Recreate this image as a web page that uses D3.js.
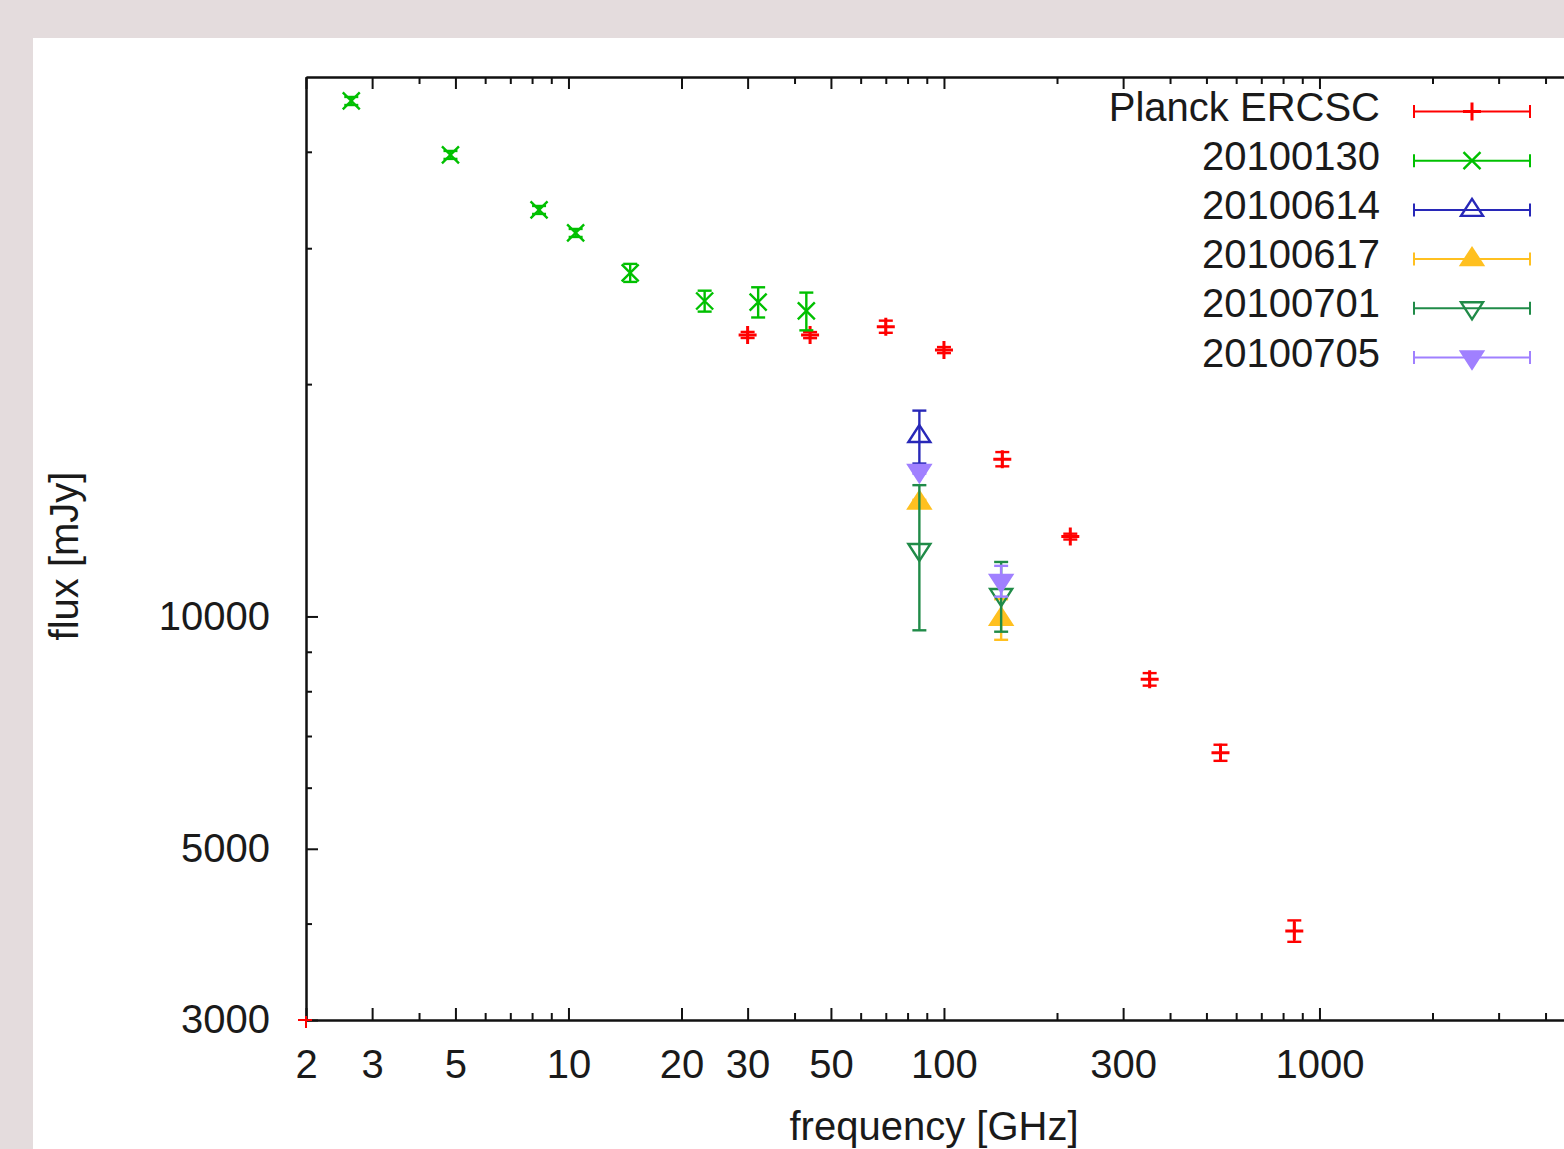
<!DOCTYPE html>
<html>
<head>
<meta charset="utf-8">
<script src="https://cdn.jsdelivr.net/npm/d3@7"></script>
<style>
  body { margin: 0; background: #e4dcdd; }
  svg { display: block; }
</style>
</head>
<body>
<div id="chart"></div>
<script>
// Planck ERCSC
const planckFreq = [30, 44, 70, 100, 143, 217, 353, 545, 857];
const planckFlux = [23160, 23150, 23740, 22140, 15990, 12690, 8290, 6660, 3913];
const planckErr = [210, 210, 430, 200, 340, 110, 155, 160, 125];
// 20100130
const jan30Freq = [2.64, 4.85, 8.35, 10.45, 14.6, 23.05, 32, 43];
const jan30Flux = [46550, 39630, 33630, 31400, 27880, 25630, 25550, 24880];
const jan30Err = [560, 470, 400, 375, 750, 800, 1150, 1400];
// 20100614
const jun14Freq = [86];
const jun14Flux = [17130];
const jun14Err = [1350];
// 20100617
const jun17Freq = [86, 142];
const jun17Flux = [14050, 9927];
const jun17Err = [110, 600];
// 20100701
const jul01Freq = [86, 142];
const jul01Flux = [12195, 10660];
const jul01Err = [2600, 1105];
// 20100705
const jul05Freq = [86, 142];
const jul05Flux = [15430, 11120];
const jul05Err = [120, 510];

const seriesNames = ["Planck ERCSC", "20100130", "20100614", "20100617", "20100701", "20100705"];
const seriesColors = ["#ff0000", "#00c000", "#2828b8", "#ffc020", "#208b48", "#a080ff"];
const seriesMarks = ["plus", "cross", "triUpOpen", "triUpFill", "triDownOpen", "triDownFill"];

const xMajor = [2, 3, 5, 10, 20, 30, 50, 100, 300, 1000];
const xMinor = [4, 6, 7, 8, 9, 40, 60, 70, 80, 90, 200, 400, 500, 600, 700, 800, 900, 2000, 3000, 4000];
const yMajor = [3000, 5000, 10000];
const yMinor = [4000, 6000, 7000, 8000, 9000, 20000, 30000, 40000];

const zip = (f, v, e) => f.map((d, i) => ({ x: d, y: v[i], err: e[i] }));
const seriesData = [
  zip(planckFreq, planckFlux, planckErr),
  zip(jan30Freq, jan30Flux, jan30Err),
  zip(jun14Freq, jun14Flux, jun14Err),
  zip(jun17Freq, jun17Flux, jun17Err),
  zip(jul01Freq, jul01Flux, jul01Err),
  zip(jul05Freq, jul05Flux, jul05Err)
];

const W = 1564, H = 1149;
const margin = { left: 306, top: 77, bottom: 1020 };
const FONT = "'Liberation Sans', Arial, sans-serif";

const x = d3.scaleLog().domain([2, 5000]).range([margin.left, margin.left + 375.5 * Math.log10(2500)]);
const y = d3.scaleLog().domain([3000, 50000]).range([margin.bottom, margin.top]);
const right = x.range()[1];

const svg = d3.select("#chart").append("svg")
  .attr("width", W).attr("height", H);

svg.append("rect")
  .attr("x", 33).attr("y", 38)
  .attr("width", W).attr("height", H)
  .attr("fill", "#ffffff");

function styleAxis(g) {
  g.selectAll(".domain").attr("stroke", "#111").attr("stroke-width", 2);
  g.selectAll(".tick line").attr("stroke", "#111").attr("stroke-width", 2);
  g.selectAll(".tick text").attr("fill", "#1a1a1a")
    .attr("font-family", FONT).attr("font-size", "40px");
}

// bottom axis
svg.append("g").attr("transform", "translate(0," + margin.bottom + ")")
  .call(d3.axisBottom(x).tickValues(xMajor).tickFormat(d3.format("d"))
    .tickSize(-12).tickSizeOuter(0).tickPadding(30))
  .call(styleAxis);
svg.append("g").attr("transform", "translate(0," + margin.bottom + ")")
  .call(d3.axisBottom(x).tickValues(xMinor).tickFormat("").tickSize(-7).tickSizeOuter(0))
  .call(styleAxis);
// top axis (mirror)
svg.append("g").attr("transform", "translate(0," + margin.top + ")")
  .call(d3.axisTop(x).tickValues(xMajor).tickFormat("").tickSize(-12).tickSizeOuter(0))
  .call(styleAxis);
svg.append("g").attr("transform", "translate(0," + margin.top + ")")
  .call(d3.axisTop(x).tickValues(xMinor).tickFormat("").tickSize(-7).tickSizeOuter(0))
  .call(styleAxis);
// left axis
svg.append("g").attr("transform", "translate(" + margin.left + ",0)")
  .call(d3.axisLeft(y).tickValues(yMajor).tickFormat(d3.format("d"))
    .tickSize(-12).tickSizeOuter(0).tickPadding(36))
  .call(styleAxis);
svg.append("g").attr("transform", "translate(" + margin.left + ",0)")
  .call(d3.axisLeft(y).tickValues(yMinor).tickFormat("").tickSize(-6).tickSizeOuter(0))
  .call(styleAxis);
// right border
svg.append("line")
  .attr("x1", right).attr("x2", right)
  .attr("y1", margin.top).attr("y2", margin.bottom)
  .attr("stroke", "#111").attr("stroke-width", 2);

// axis titles
svg.append("text")
  .attr("x", 934).attr("y", 1140)
  .attr("text-anchor", "middle")
  .attr("font-family", FONT).attr("font-size", "40px").attr("fill", "#1a1a1a")
  .text("frequency [GHz]");
svg.append("text")
  .attr("transform", "translate(78,556) rotate(-90)")
  .attr("text-anchor", "middle")
  .attr("font-family", FONT).attr("font-size", "40px").attr("fill", "#1a1a1a")
  .text("flux [mJy]");

// point shapes
const markPath = {
  plus: "M-9,0H9M0,-9V9",
  cross: "M-8.5,-8.5L8.5,8.5M-8.5,8.5L8.5,-8.5",
  triUpOpen: "M0,-11L11,6L-11,6Z",
  triUpFill: "M0,-11L11,6L-11,6Z",
  triDownOpen: "M0,11L11,-6L-11,-6Z",
  triDownFill: "M0,11L11,-6L-11,-6Z"
};
function drawMark(g, kind, color) {
  const filled = kind.endsWith("Fill");
  g.append("path")
    .attr("d", markPath[kind])
    .attr("fill", filled ? color : "none")
    .attr("stroke", color)
    .attr("stroke-width", kind === "plus" ? 3 : 2.4)
    .attr("stroke-linejoin", "miter");
}

svg.append("clipPath").attr("id", "plotclip")
  .append("rect")
  .attr("x", margin.left).attr("y", margin.top)
  .attr("width", right - margin.left).attr("height", margin.bottom - margin.top);

const plot = svg.append("g").attr("clip-path", "url(#plotclip)");
const CAP = 7;

seriesData.forEach((data, si) => {
  const color = seriesColors[si];
  const g = plot.append("g");
  data.forEach(d => {
    const px = x(d.x);
    const yHi = y(d.y + d.err), yLo = y(d.y - d.err);
    const eb = g.append("g").attr("stroke", color).attr("stroke-width", 2.4);
    eb.append("line").attr("x1", px).attr("x2", px).attr("y1", yHi).attr("y2", yLo);
    eb.append("line").attr("x1", px - CAP).attr("x2", px + CAP).attr("y1", yHi).attr("y2", yHi);
    eb.append("line").attr("x1", px - CAP).attr("x2", px + CAP).attr("y1", yLo).attr("y2", yLo);
    const m = g.append("g").attr("transform", "translate(" + px + "," + y(d.y) + ")");
    drawMark(m, seriesMarks[si], color);
  });
});

// small red mark at the axis origin (as in the source plot)
svg.append("path")
  .attr("transform", "translate(" + x(x.domain()[0]) + "," + y(y.domain()[0]) + ")")
  .attr("d", "M-8,0H6M0,-4V8")
  .attr("stroke", seriesColors[0]).attr("stroke-width", 2).attr("fill", "none");

// legend
const legX = 1380, sampleL = 1414, sampleR = 1530, legY0 = 111.5, legStep = 49.2;
seriesNames.forEach((name, i) => {
  const ly = legY0 + i * legStep;
  const color = seriesColors[i];
  svg.append("text")
    .attr("x", legX).attr("y", ly + 9)
    .attr("text-anchor", "end")
    .attr("font-family", FONT).attr("font-size", "40px").attr("fill", "#1a1a1a")
    .text(name);
  const lg = svg.append("g").attr("stroke", color).attr("stroke-width", 2);
  lg.append("line").attr("x1", sampleL).attr("x2", sampleR).attr("y1", ly).attr("y2", ly);
  lg.append("line").attr("x1", sampleL).attr("x2", sampleL).attr("y1", ly - 6.5).attr("y2", ly + 6.5);
  lg.append("line").attr("x1", sampleR).attr("x2", sampleR).attr("y1", ly - 6.5).attr("y2", ly + 6.5);
  const m = svg.append("g").attr("transform", "translate(" + (sampleL + sampleR) / 2 + "," + ly + ")");
  drawMark(m, seriesMarks[i], color);
});
</script>
</body>
</html>
